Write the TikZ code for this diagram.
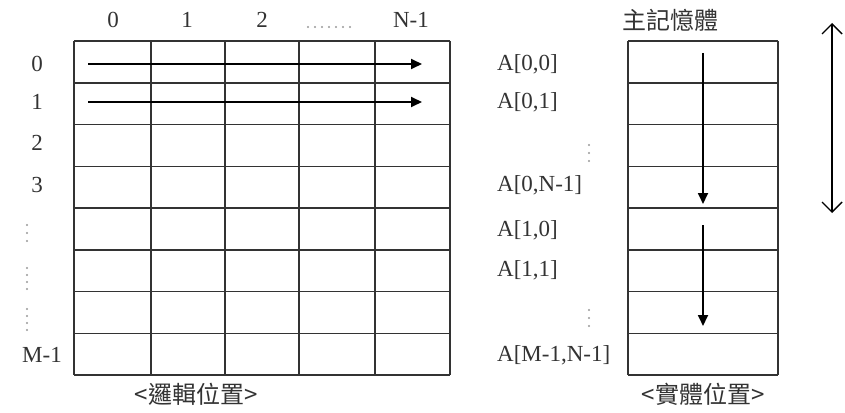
\documentclass[tikz,border=0pt]{standalone}
\usepackage{fontspec}
\setmainfont{Liberation Serif}
\newfontfamily\cjk{Noto Sans CJK TC}
\usetikzlibrary{arrows.meta}

\tikzset{
    lbl/.style={inner sep=0pt, font=\fontsize{23}{25}\selectfont, text=black!80},
    cjklbl/.style={inner sep=0pt, font=\cjk\fontsize{24}{26}\selectfont, text=black!80},
    dot/.style={circle, fill=black!40, inner sep=0pt, minimum size=2.2pt},
    gridline/.style={line width=1.5pt, black!80},
    walk/.style={line width=1.8pt, -{Triangle[length=11pt,width=10pt]}},
    span/.style={line width=1.4pt, {Straight Barb[length=10pt,width=20pt]}-{Straight Barb[length=10pt,width=20pt]}}
}

\begin{document}
\begin{tikzpicture}[x=1pt, y=-1pt]
    \useasboundingbox (0,0) rectangle (845,412);

    % logical grid
    \foreach \y in {41,82.75,124.5,166.25,208,249.75,291.5,333.25,375}
        \draw[gridline] (74,\y) -- (450,\y);
    \foreach \x in {74,151,225,299,375,450}
        \draw[gridline] (\x,41) -- (\x,375);

    % memory column
    \foreach \y in {41,82.75,124.5,166.25,208,249.75,291.5,333.25,375}
        \draw[gridline] (628,\y) -- (778,\y);
    \draw[gridline] (628,41) -- (628,375);
    \draw[gridline] (778,41) -- (778,375);

    % column numbers
    \node at (113,20) [lbl] (c0) {0};
    \node at (187,20) [lbl] (c1) {1};
    \node at (262,20) [lbl] (c2) {2};
    \foreach \x in {308,315,322,329,336,343,350}
        \node at (\x,27) [dot] {};
    \node at (411,20) [lbl] (cn) {N-1};

    % row numbers
    \node at (37,64) [lbl] (r0) {0};
    \node at (37,102) [lbl] (r1) {1};
    \node at (37,143) [lbl] (r2) {2};
    \node at (37,185) [lbl] (r3) {3};
    \foreach \y in {225,233,241, 268,275,282,289, 309,316,323,330}
        \node at (27,\y) [dot] {};
    \node at (42,355) [lbl] (rm) {M-1};

    % element names
    \node at (497,64) [lbl, anchor=west] (a00) {A[0,0]};
    \node at (497,102) [lbl, anchor=west] (a01) {A[0,1]};
    \foreach \y in {145,153,161, 310,318,326}
        \node at (589,\y) [dot] {};
    \node at (497,185) [lbl, anchor=west] (a0n) {A[0,N-1]};
    \node at (497,230) [lbl, anchor=west] (a10) {A[1,0]};
    \node at (497,270) [lbl, anchor=west] (a11) {A[1,1]};
    \node at (497,355) [lbl, anchor=west] (amn) {A[M-1,N-1]};

    % captions
    \node at (670,20) [cjklbl] (mem) {主記憶體};
    \node at (196,394) [cjklbl] (logic) {<邏輯位置>};
    \node at (703,394) [cjklbl] (phys) {<實體位置>};

    % row order arrows
    \coordinate (h0s) at (88,64);
    \coordinate (h0e) at (422,64);
    \coordinate (h1s) at (88,102);
    \coordinate (h1e) at (422,102);
    \draw[walk] (h0s) -- (h0e);
    \draw[walk] (h1s) -- (h1e);

    \coordinate (v0s) at (703,53);
    \coordinate (v0e) at (703,204);
    \coordinate (v1s) at (703,225);
    \coordinate (v1e) at (703,326);
    \draw[walk] (v0s) -- (v0e);
    \draw[walk] (v1s) -- (v1e);

    \coordinate (top) at (832,23);
    \coordinate (bot) at (832,213);
    \draw[span] (top) -- (bot);
\end{tikzpicture}
\end{document}
